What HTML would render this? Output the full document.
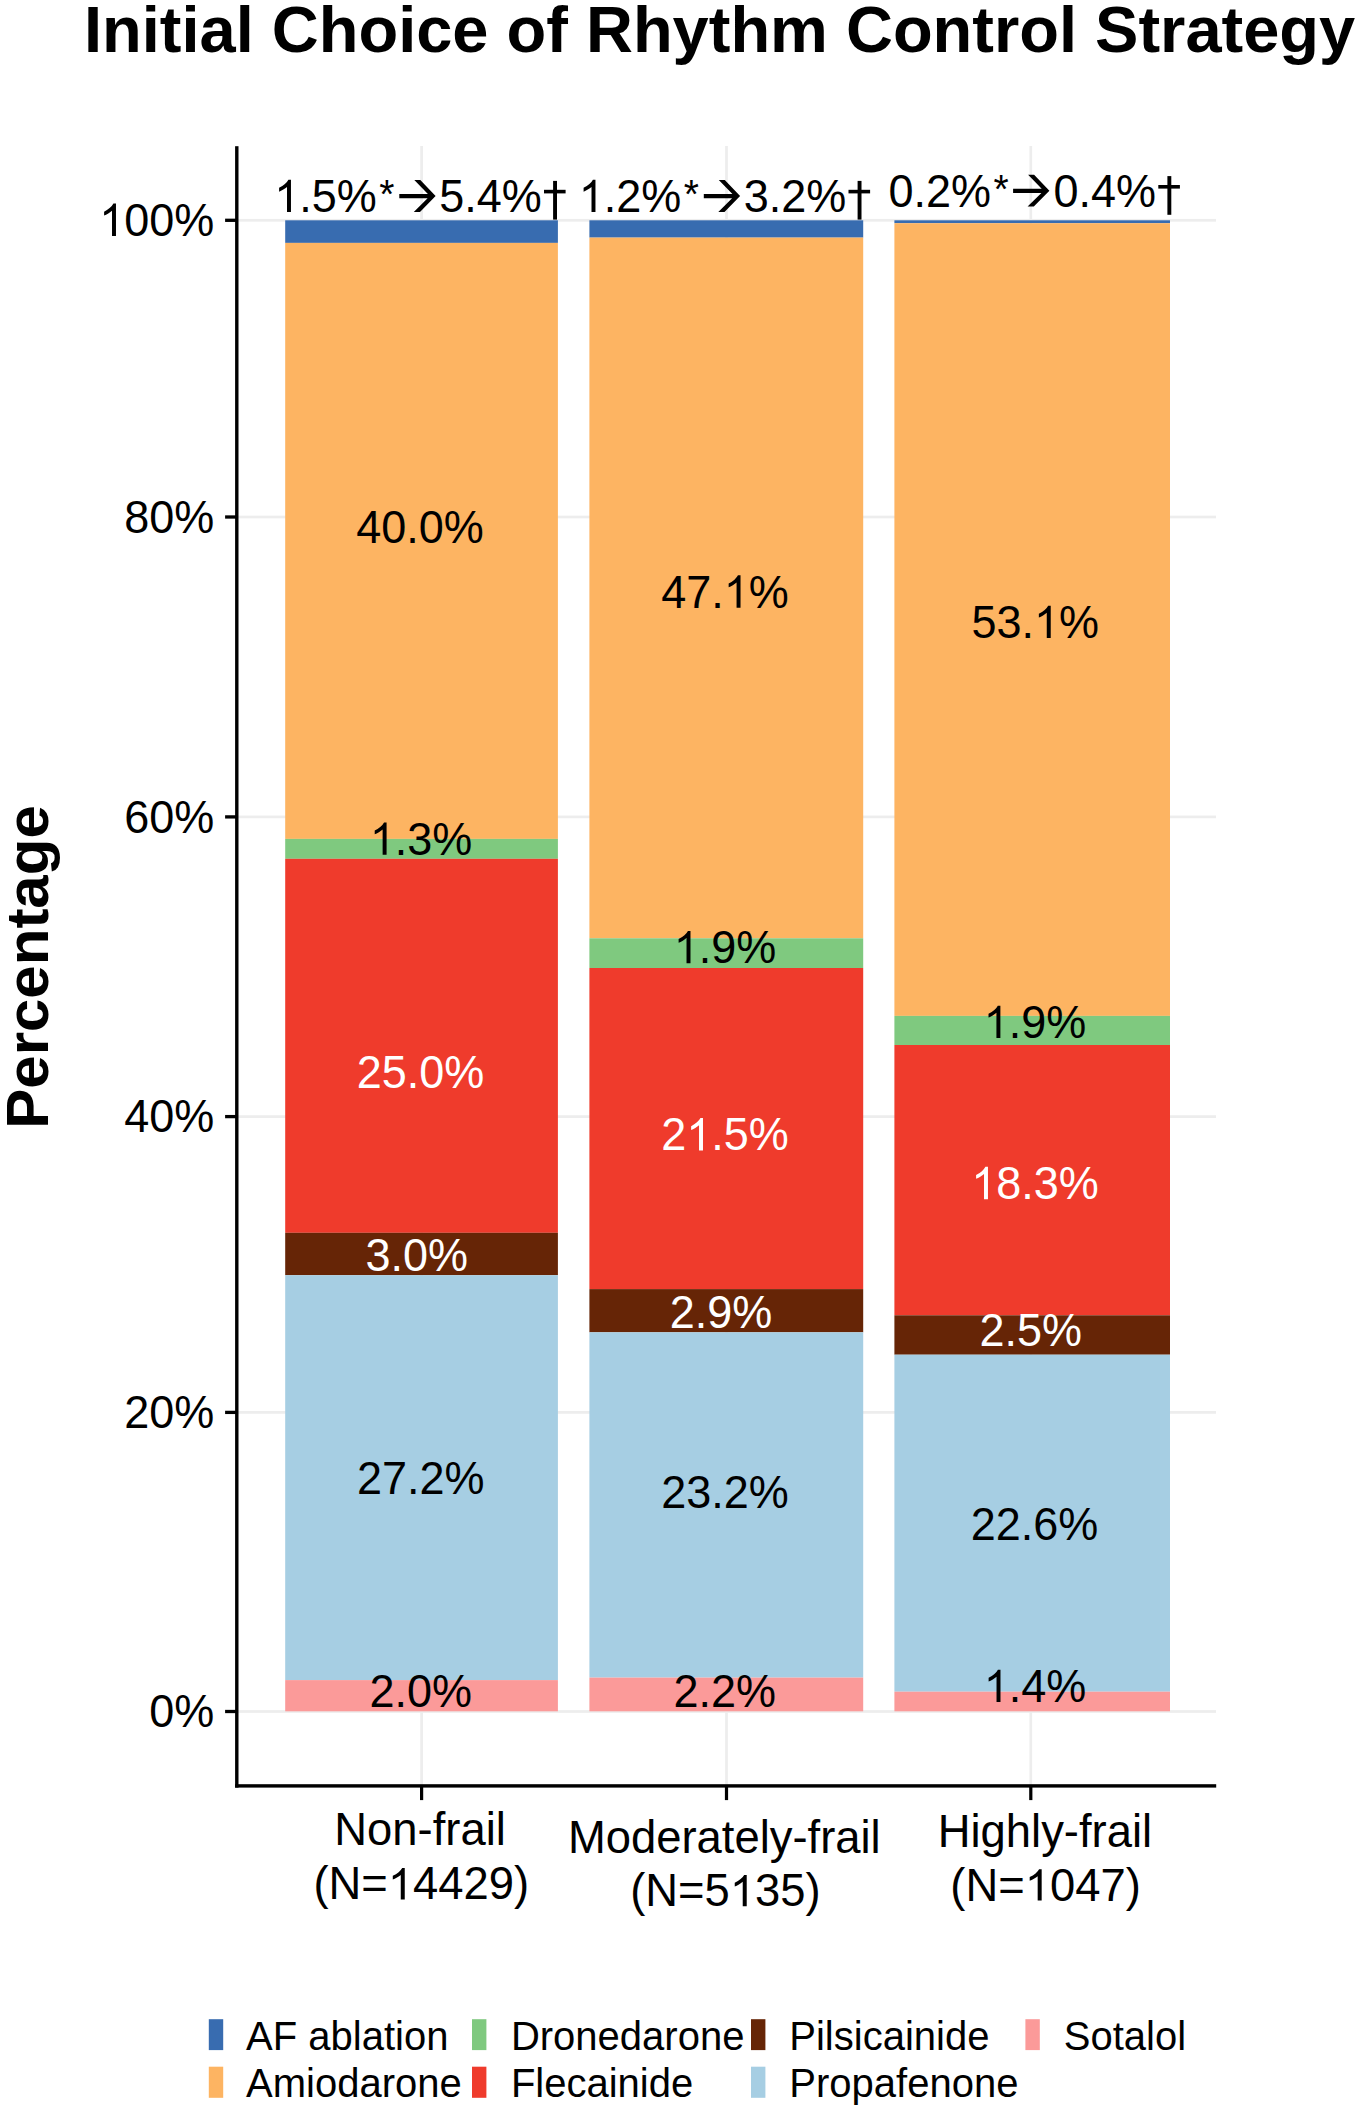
<!DOCTYPE html>
<html><head><meta charset="utf-8"><title>Initial Choice of Rhythm Control Strategy</title>
<style>html,body{margin:0;padding:0;background:#fff}svg{display:block}text{font-family:"Liberation Sans",sans-serif;fill:#000}.b{font-weight:bold}.w{fill:#fff}.m{text-anchor:middle}.e{text-anchor:end}</style></head><body>
<svg width="1360" height="2111" viewBox="0 0 1360 2111">
<defs><path id="o" d="M763 0H583V1147Q518 1085 412.5 1023T223 930V1104Q374 1175 487 1276T647 1472H763Z"/></defs>
<rect width="1360" height="2111" fill="#fff"/>
<text class="b" transform="translate(84,52.4) scale(1,1.0)" font-size="65">Initial Choice of Rhythm Control Strategy</text>
<rect x="237" y="218.95" width="979" height="2.7" fill="#EDEDED"/>
<rect x="237" y="515.65" width="979" height="2.7" fill="#EDEDED"/>
<rect x="237" y="815.55" width="979" height="2.7" fill="#EDEDED"/>
<rect x="237" y="1115.25" width="979" height="2.7" fill="#EDEDED"/>
<rect x="237" y="1411.05" width="979" height="2.7" fill="#EDEDED"/>
<rect x="237" y="1710.15" width="979" height="2.7" fill="#EDEDED"/>
<rect x="420.25" y="146" width="2.7" height="1639" fill="#EDEDED"/>
<rect x="725.15" y="146" width="2.7" height="1639" fill="#EDEDED"/>
<rect x="1029.45" y="146" width="2.7" height="1639" fill="#EDEDED"/>
<rect x="285.2" y="220.3" width="272.7" height="22.6" fill="#386CB0"/>
<rect x="285.2" y="242.9" width="272.7" height="596.0" fill="#FDB462"/>
<rect x="285.2" y="838.9" width="272.7" height="19.9" fill="#7FC97F"/>
<rect x="285.2" y="858.8" width="272.7" height="374.0" fill="#EF3B2C"/>
<rect x="285.2" y="1232.8" width="272.7" height="42.4" fill="#662506"/>
<rect x="285.2" y="1275.2" width="272.7" height="404.9" fill="#A6CEE3"/>
<rect x="285.2" y="1680.1" width="272.7" height="31.2" fill="#FB9A99"/>
<rect x="589.4" y="220.3" width="273.8" height="17.3" fill="#386CB0"/>
<rect x="589.4" y="237.6" width="273.8" height="700.7" fill="#FDB462"/>
<rect x="589.4" y="938.3" width="273.8" height="29.7" fill="#7FC97F"/>
<rect x="589.4" y="968.0" width="273.8" height="321.1" fill="#EF3B2C"/>
<rect x="589.4" y="1289.1" width="273.8" height="43.2" fill="#662506"/>
<rect x="589.4" y="1332.3" width="273.8" height="345.3" fill="#A6CEE3"/>
<rect x="589.4" y="1677.6" width="273.8" height="33.7" fill="#FB9A99"/>
<rect x="894.4" y="220.3" width="275.6" height="2.9" fill="#386CB0"/>
<rect x="894.4" y="223.2" width="275.6" height="792.7" fill="#FDB462"/>
<rect x="894.4" y="1015.9" width="275.6" height="29.1" fill="#7FC97F"/>
<rect x="894.4" y="1045.0" width="275.6" height="270.3" fill="#EF3B2C"/>
<rect x="894.4" y="1315.3" width="275.6" height="39.4" fill="#662506"/>
<rect x="894.4" y="1354.7" width="275.6" height="337.0" fill="#A6CEE3"/>
<rect x="894.4" y="1691.7" width="275.6" height="19.6" fill="#FB9A99"/>
<rect x="235.1" y="146.2" width="3.4" height="1641.4" fill="#000"/>
<rect x="235.1" y="1784.2" width="981.1" height="3.4" fill="#000"/>
<rect x="225.1" y="218.65" width="11" height="3.3" fill="#000"/>
<use href="#o" transform="translate(99.21,235.9) scale(0.02197,-0.02197)"/>
<text transform="translate(124.23,235.9) scale(1,1.04)" font-size="45">00%</text>
<rect x="225.1" y="515.35" width="11" height="3.3" fill="#000"/>
<text class="e" transform="translate(214.3,532.6) scale(1,1.04)" font-size="45">80%</text>
<rect x="225.1" y="815.25" width="11" height="3.3" fill="#000"/>
<text class="e" transform="translate(214.3,832.5) scale(1,1.04)" font-size="45">60%</text>
<rect x="225.1" y="1114.95" width="11" height="3.3" fill="#000"/>
<text class="e" transform="translate(214.3,1132.2) scale(1,1.04)" font-size="45">40%</text>
<rect x="225.1" y="1410.75" width="11" height="3.3" fill="#000"/>
<text class="e" transform="translate(214.3,1428.0) scale(1,1.04)" font-size="45">20%</text>
<rect x="225.1" y="1709.85" width="11" height="3.3" fill="#000"/>
<text class="e" transform="translate(214.3,1727.1) scale(1,1.04)" font-size="45">0%</text>
<rect x="420.0" y="1785" width="3.2" height="15.1" fill="#000"/>
<rect x="724.9" y="1785" width="3.2" height="15.1" fill="#000"/>
<rect x="1029.2" y="1785" width="3.2" height="15.1" fill="#000"/>
<text class="b m" transform="translate(48,967) rotate(-90) scale(1,1.0)" font-size="60">Percentage</text>
<text class="m" transform="translate(420.1,1845.3) scale(1,1.0)" font-size="45.4">Non-frail</text>
<use href="#o" transform="translate(387.83,1899.4) scale(0.02217,-0.02133)"/>
<text transform="translate(313.41,1899.4) scale(1,1.005)" font-size="45.4">(N=</text>
<text transform="translate(413.08,1899.4) scale(1,1.005)" font-size="45.4">4429)</text>
<text class="m" transform="translate(724.3,1852.5) scale(1,1.0)" font-size="45.4">Moderately-frail</text>
<use href="#o" transform="translate(729.80,1906.3) scale(0.02217,-0.02133)"/>
<text transform="translate(630.13,1906.3) scale(1,1.005)" font-size="45.4">(N=5</text>
<text transform="translate(755.05,1906.3) scale(1,1.005)" font-size="45.4">35)</text>
<text class="m" transform="translate(1044.9,1846.5) scale(1,1.0)" font-size="45.4">Highly-frail</text>
<use href="#o" transform="translate(1024.75,1900.6) scale(0.02217,-0.02133)"/>
<text transform="translate(950.33,1900.6) scale(1,1.005)" font-size="45.4">(N=</text>
<text transform="translate(1050.00,1900.6) scale(1,1.005)" font-size="45.4">047)</text>
<text class="m" transform="translate(420,542.9) scale(1,1.04)" font-size="45">40.0%</text>
<use href="#o" transform="translate(723.76,607.7) scale(0.02197,-0.02197)"/>
<text transform="translate(661.20,607.7) scale(1,1.04)" font-size="45">47.</text>
<text transform="translate(748.79,607.7) scale(1,1.04)" font-size="45">%</text>
<use href="#o" transform="translate(1033.96,638.0) scale(0.02197,-0.02197)"/>
<text transform="translate(971.40,638.0) scale(1,1.04)" font-size="45">53.</text>
<text transform="translate(1058.99,638.0) scale(1,1.04)" font-size="45">%</text>
<use href="#o" transform="translate(369.82,854.8) scale(0.02197,-0.02197)"/>
<text transform="translate(394.84,854.8) scale(1,1.04)" font-size="45">.3%</text>
<use href="#o" transform="translate(673.72,963.3) scale(0.02197,-0.02197)"/>
<text transform="translate(698.74,963.3) scale(1,1.04)" font-size="45">.9%</text>
<use href="#o" transform="translate(983.62,1038.0) scale(0.02197,-0.02197)"/>
<text transform="translate(1008.64,1038.0) scale(1,1.04)" font-size="45">.9%</text>
<text class="m w" transform="translate(420.5,1087.9) scale(1,1.04)" font-size="45">25.0%</text>
<use href="#o" fill="#fff" transform="translate(686.23,1150.4) scale(0.02197,-0.02197)"/>
<text class="w" transform="translate(661.20,1150.4) scale(1,1.04)" font-size="45">2</text>
<text class="w" transform="translate(711.26,1150.4) scale(1,1.04)" font-size="45">.5%</text>
<use href="#o" fill="#fff" transform="translate(971.20,1199.2) scale(0.02197,-0.02197)"/>
<text class="w" transform="translate(996.23,1199.2) scale(1,1.04)" font-size="45">8.3%</text>
<text class="m w" transform="translate(416.8,1271.4) scale(1,1.04)" font-size="45">3.0%</text>
<text class="m w" transform="translate(720.9,1328.1) scale(1,1.04)" font-size="45">2.9%</text>
<text class="m w" transform="translate(1030.7,1346) scale(1,1.04)" font-size="45">2.5%</text>
<text class="m" transform="translate(420.7,1493.6) scale(1,1.04)" font-size="45">27.2%</text>
<text class="m" transform="translate(725,1508.2) scale(1,1.04)" font-size="45">23.2%</text>
<text class="m" transform="translate(1034.5,1540.3) scale(1,1.04)" font-size="45">22.6%</text>
<text class="m" transform="translate(420.7,1707) scale(1,1.04)" font-size="45">2.0%</text>
<text class="m" transform="translate(724.7,1706.7) scale(1,1.04)" font-size="45">2.2%</text>
<use href="#o" transform="translate(983.72,1702) scale(0.02197,-0.02197)"/>
<text transform="translate(1008.74,1702) scale(1,1.04)" font-size="45">.4%</text>
<use href="#o" transform="translate(274.20,212.1) scale(0.02197,-0.02197)"/>
<text transform="translate(299.23,212.1) scale(1,1.04)" font-size="45">.5%</text>
<text transform="translate(379.2,207.5) scale(1,1.04)" font-size="39">*</text>
<polygon points="414.3,180.0 420.3,180.0 435.6,196.1 420.0,211.9 413.8,211.9 427.6,198.2 399.3,198.2 399.3,194.0 427.9,194.0"/>
<text transform="translate(439.2,212.1) scale(1,1.04)" font-size="45">5.4%</text>
<rect x="553.1" y="180.9" width="3.9" height="38.7"/>
<rect x="544.0" y="189.8" width="21.6" height="3.6"/>
<use href="#o" transform="translate(578.70,212.1) scale(0.02197,-0.02197)"/>
<text transform="translate(603.73,212.1) scale(1,1.04)" font-size="45">.2%</text>
<text transform="translate(683.7,207.5) scale(1,1.04)" font-size="39">*</text>
<polygon points="718.8,180.0 724.8,180.0 740.1,196.1 724.5,211.9 718.3,211.9 732.1,198.2 703.8,198.2 703.8,194.0 732.4,194.0"/>
<text transform="translate(743.7,212.1) scale(1,1.04)" font-size="45">3.2%</text>
<rect x="857.6" y="180.9" width="3.9" height="38.7"/>
<rect x="848.5" y="189.8" width="21.6" height="3.6"/>
<text transform="translate(888.5,207.3) scale(1,1.04)" font-size="45">0.2%</text>
<text transform="translate(993.5,202.7) scale(1,1.04)" font-size="39">*</text>
<polygon points="1028.1,174.7 1034.1,174.7 1049.4,190.8 1033.8,206.6 1027.6,206.6 1041.4,192.9 1013.1,192.9 1013.1,188.7 1041.7,188.7"/>
<text transform="translate(1053.5,207.3) scale(1,1.04)" font-size="45">0.4%</text>
<rect x="1167.4" y="176.1" width="3.9" height="38.7"/>
<rect x="1158.3" y="185.0" width="21.6" height="3.6"/>
<rect x="208.8" y="2019.2" width="14.4" height="30.9" fill="#386CB0"/>
<text transform="translate(246.1,2049.5) scale(1,1.0)" font-size="40">AF ablation</text>
<rect x="208.8" y="2066.7" width="14.4" height="31.1" fill="#FDB462"/>
<text transform="translate(246.1,2097.1) scale(1,1.0)" font-size="40">Amiodarone</text>
<rect x="472.0" y="2019.2" width="14.4" height="30.9" fill="#7FC97F"/>
<text transform="translate(510.9,2049.5) scale(1,1.0)" font-size="40">Dronedarone</text>
<rect x="472.0" y="2066.7" width="14.4" height="31.1" fill="#EF3B2C"/>
<text transform="translate(510.9,2097.1) scale(1,1.0)" font-size="40">Flecainide</text>
<rect x="751.0" y="2019.2" width="14.4" height="30.9" fill="#662506"/>
<text transform="translate(789.3,2049.5) scale(1,1.0)" font-size="40">Pilsicainide</text>
<rect x="751.0" y="2066.7" width="14.4" height="31.1" fill="#A6CEE3"/>
<text transform="translate(789.3,2097.1) scale(1,1.0)" font-size="40">Propafenone</text>
<rect x="1025.4" y="2019.2" width="14.4" height="30.9" fill="#FB9A99"/>
<text transform="translate(1063.8,2049.5) scale(1,1.0)" font-size="40">Sotalol</text>
</svg></body></html>
